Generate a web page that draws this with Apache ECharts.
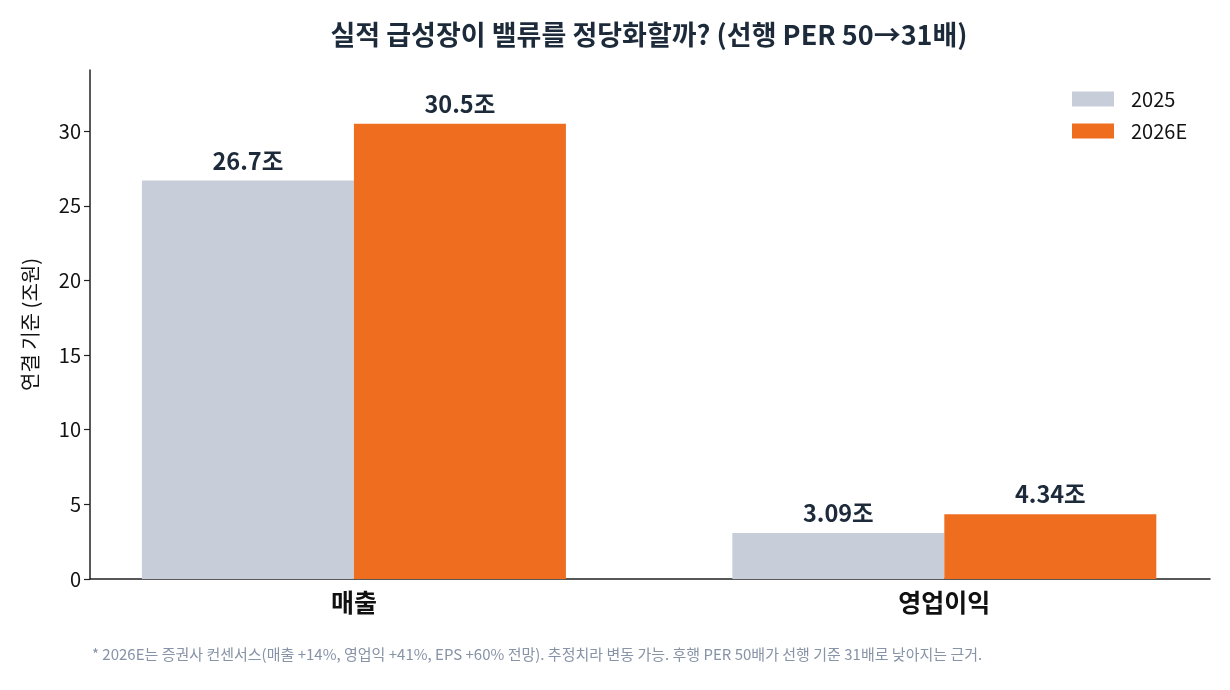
<!DOCTYPE html>
<html>
<head>
<meta charset="utf-8">
<script src="https://cdn.jsdelivr.net/npm/echarts@6/dist/echarts.min.js"></script>
<style>
    html, body { margin: 0; padding: 0; background: #fff; }
    #chart { width: 1230px; height: 690px; }
</style>
</head>
<body>
<div id="chart"></div>
<script>
// 데이터
const categories = ['매출', '영업이익'];
const seriesNames = ['2025', '2026E'];
const values2025 = [26.7, 3.09];
const values2026E = [30.5, 4.34];
const yTicks = [0, 5, 10, 15, 20, 25, 30];

const FONT = '"Noto Sans CJK KR", "Noto Sans", sans-serif';
const DARK = '#1c2a3a';

const myChart = echarts.init(document.getElementById('chart'));

const barLabel = {
    show: true,
    position: 'top',
    distance: 8,
    color: DARK,
    fontFamily: FONT,
    fontWeight: 'bold',
    fontSize: 23.5,
    formatter: p => p.value[1] + '조'
};

const option = {
    backgroundColor: '#fff',
    textStyle: { fontFamily: FONT },
    title: {
        text: '실적 급성장이 밸류를 정당화할까? (선행 PER 50→31배)',
        left: 644,
        top: 16,
        textAlign: 'center',
        textStyle: {
            color: DARK,
            fontFamily: FONT,
            fontWeight: 'bold',
            fontSize: 27
        }
    },
    legend: {
        orient: 'vertical',
        left: 1067,
        top: 84,
        itemWidth: 42,
        itemHeight: 15,
        itemGap: 12,
        icon: 'rect',
        textStyle: { color: '#111', fontSize: 20, fontFamily: FONT, padding: [0, 0, 0, 12] },
        data: seriesNames
    },
    grid: {
        left: 90,
        right: 20,
        top: 70,
        bottom: 111
    },
    xAxis: {
        type: 'value',
        min: -0.447,
        max: 1.45,
        splitLine: { show: false },
        axisLine: { show: true, onZero: false, lineStyle: { color: '#222', width: 1.5 } },
        axisTick: { show: false },
        axisLabel: {
            customValues: [0, 1],
            formatter: v => categories[Math.round(v)] || '',
            color: '#111',
            fontFamily: FONT,
            fontWeight: 'bold',
            fontSize: 25,
            margin: 11
        }
    },
    yAxis: {
        type: 'value',
        min: 0,
        max: 34.1,
        name: '연결 기준 (조원)',
        nameLocation: 'middle',
        nameGap: 50,
        nameTextStyle: { color: '#111', fontSize: 20, fontFamily: FONT },
        splitLine: { show: false },
        axisLine: { show: true, onZero: false, lineStyle: { color: '#222', width: 1.5 } },
        axisTick: { show: true, customValues: yTicks, length: 6, lineStyle: { color: '#222', width: 1.2 } },
        axisLabel: {
            customValues: yTicks,
            color: '#111',
            fontSize: 20,
            fontFamily: FONT,
            margin: 9
        }
    },
    series: [{
        name: seriesNames[0],
        type: 'bar',
        barWidth: 212,
        barGap: '0%',
        itemStyle: { color: '#c7ced9' },
        label: barLabel,
        data: values2025.map((v, i) => [i, v])
    }, {
        name: seriesNames[1],
        type: 'bar',
        barWidth: 212,
        barGap: '0%',
        itemStyle: { color: '#ee6d1f' },
        label: barLabel,
        data: values2026E.map((v, i) => [i, v])
    }],
    graphic: [{
        type: 'text',
        left: 92,
        top: 647,
        style: {
            text: '* 2026E는 증권사 컨센서스(매출 +14%, 영업익 +41%, EPS +60% 전망). 추정치라 변동 가능. 후행 PER 50배가 선행 기준 31배로 낮아지는 근거.',
            fill: '#8793a6',
            fontSize: 15,
            fontFamily: FONT
        }
    }]
};

myChart.setOption(option);
</script>
</body>
</html>
